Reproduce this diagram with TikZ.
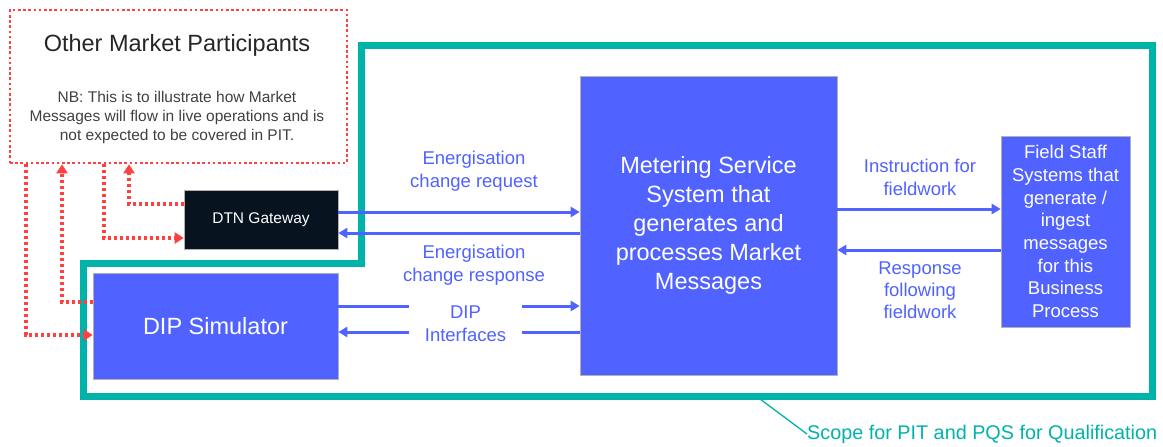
\documentclass[tikz,border=0pt]{standalone}
\usepackage{fontspec}
\setmainfont{Liberation Sans}
\usetikzlibrary{arrows.meta}
\definecolor{mblue}{RGB}{80,98,255}
\definecolor{mred}{RGB}{255,64,64}
\definecolor{mteal}{RGB}{0,179,169}
\definecolor{mnavy}{RGB}{7,19,31}

\begin{document}
\begin{tikzpicture}[x=1pt, y=-1pt, >={Triangle[length=9pt,width=10pt]},
  block/.style={draw=black!30, line width=0.6pt, fill=mblue, text=white, align=center, inner sep=0pt},
  big/.style={font=\fontsize{23.5}{29}\selectfont},
  flow/.style={->, draw=mblue, line width=3pt},
  feed/.style={-{Triangle[length=9pt,width=11pt]}, draw=mred, line width=3.2pt, dash pattern=on 3pt off 3pt},
  tag/.style={text=mblue, align=center, inner sep=0pt, font=\fontsize{18.5}{23}\selectfont}]
  \useasboundingbox (0,0) rectangle (1163,447);

  % scope outline
  \draw[mteal, line width=7pt, line join=miter] (361,45) -- (1152,45) -- (1152,396) -- (83,396) -- (83,263) -- (361,263) -- cycle;
  \coordinate (lead) at (760,399);
  \node[text=mteal, anchor=west, inner sep=0pt, font=\fontsize{19.8}{23}\selectfont] (scopelbl) at (807,434) {Scope for PIT and PQS for Qualification};
  \draw[mteal, line width=1.3pt] (lead) -- (scopelbl.west);

  % other market participants
  \node[draw=mred, line width=2.6pt, dash pattern=on 2.6pt off 2.6pt, minimum width=337pt, minimum height=153pt] (omp) at (178.5,86.5) {};
  \node[text=black!85, inner sep=0pt, font=\fontsize{23.5}{28}\selectfont] (omptitle) at (177,45) {Other Market Participants};
  \node[text=black!75, align=center, inner sep=0pt, font=\fontsize{15.5}{19}\selectfont] (ompnote) at (177,117)
    {NB: This is to illustrate how Market\\ Messages will flow in live operations and is\\ not expected to be covered in PIT.};

  % systems
  \node[block, fill=mnavy, minimum width=154pt, minimum height=59pt, font=\fontsize{15.5}{19}\selectfont] (dtn) at (261,219.5) {DTN Gateway};
  \node[block, big, minimum width=245pt, minimum height=106pt] (dip) at (215.5,326) {DIP Simulator};
  \node[block, big, minimum width=257pt, minimum height=299pt] (mss) at (708.5,225.5)
    {Metering Service\\ System that\\ generates and\\ processes Market\\ Messages};
  \node[block, minimum width=129pt, minimum height=191pt, font=\fontsize{18.5}{22.7}\selectfont] (field) at (1065.5,231.5)
    {Field Staff\\ Systems that\\ generate /\\ ingest\\ messages\\ for this\\ Business\\ Process};

  % market message flows
  \draw[flow] (dtn.east |- 0,212) -- (mss.west |- 0,212);
  \draw[flow] (mss.west |- 0,233) -- (dtn.east |- 0,233);
  \draw[flow] (dip.east |- 0,306) -- (mss.west |- 0,306);
  \draw[flow] (mss.west |- 0,332) -- (dip.east |- 0,332);
  \draw[flow] (mss.east |- 0,209) -- (field.west |- 0,209);
  \draw[flow] (field.west |- 0,250) -- (mss.east |- 0,250);

  \node[tag] (creq) at (474,171.5) {Energisation\\ change request};
  \node[tag] (cresp) at (474,265.5) {Energisation\\ change response};
  \node[tag, fill=white, minimum width=113pt, minimum height=50pt] (dipif) at (465.5,324) {DIP\\ Interfaces};
  \node[tag] (instr) at (920,177) {Instruction for\\ fieldwork};
  \node[tag, font=\fontsize{18.5}{22}\selectfont] (resp) at (920,290) {Response\\ following\\ fieldwork};

  % live operations (red)
  \draw[feed] (omp.south -| 26,0) |- (dip.west |- 0,335);
  \draw[feed] (dip.west |- 0,302) -| (omp.south -| 62,0);
  \draw[feed] (omp.south -| 104,0) |- (dtn.west |- 0,238);
  \draw[feed] (dtn.west |- 0,204) -| (omp.south -| 129,0);
\end{tikzpicture}
\end{document}
